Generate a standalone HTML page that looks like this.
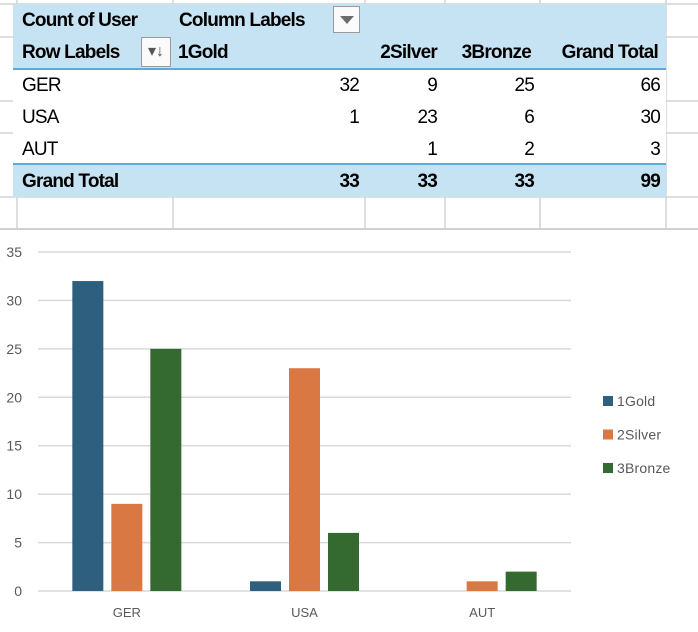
<!DOCTYPE html>
<html><head><meta charset="utf-8"><style>
body{margin:0;width:698px;height:632px;background:#fff;position:relative;overflow:hidden;font-family:"Liberation Sans",sans-serif}
.a{position:absolute}
.t{position:absolute;font-size:19px;color:#000;white-space:nowrap;letter-spacing:-0.8px}
.b{font-weight:bold}
.r{text-align:right}
</style></head><body>
<div class="a" style="left:0;top:0;width:698px;height:230px">
<svg width="698" height="230" style="position:absolute;left:0;top:0">
<g stroke="#d4d4d4" stroke-width="1.5">
<line x1="0" y1="4" x2="698" y2="4"/><line x1="0" y1="37" x2="698" y2="37"/><line x1="0" y1="101" x2="698" y2="101"/><line x1="0" y1="133" x2="698" y2="133"/><line x1="0" y1="197" x2="698" y2="197"/>
<line x1="17" y1="0" x2="17" y2="229"/><line x1="173" y1="0" x2="173" y2="229"/><line x1="365" y1="0" x2="365" y2="229"/><line x1="445" y1="0" x2="445" y2="229"/><line x1="540" y1="0" x2="540" y2="229"/><line x1="666" y1="0" x2="666" y2="229"/>
</g>
<line x1="0" y1="229" x2="698" y2="229" stroke="#d0d0d0" stroke-width="2"/>
</svg>
</div>
<div class="a" style="left:13px;top:4px;width:653px;height:193px">
<div class="a" style="left:0;top:0;width:653px;height:65px;background:#c6e3f3"></div>
<div class="a" style="left:0;top:64px;width:653px;height:2px;background:#5ea8da"></div>
<div class="a" style="left:0;top:66px;width:653px;height:95px;background:#fff"></div>
<div class="a" style="left:0;top:159px;width:653px;height:2px;background:#5ea8da"></div>
<div class="a" style="left:0;top:161px;width:653px;height:32px;background:#c6e3f3"></div>
</div>
<div class="t b" style="left:22px;top:10px">Count of User</div>
<div class="t b" style="left:179px;top:10px">Column Labels</div>
<div class="a" style="left:333px;top:6px;width:27px;height:27px;border:1px solid #9a9a9a;background:#fafafa;box-sizing:border-box"><div class="a" style="left:6px;top:9px;width:0;height:0;border-left:7px solid transparent;border-right:7px solid transparent;border-top:8px solid #6b6b6b"></div></div>
<div class="t b" style="left:22px;top:42px">Row Labels</div>
<div class="a" style="left:141px;top:37px;width:30px;height:30px;border:1px solid #9a9a9a;background:#fafafa;box-sizing:border-box;font-size:16px;color:#555;text-align:center;line-height:28px">▾↓</div>
<div class="t b" style="left:178px;top:42px">1Gold</div>
<div class="t b r" style="left:365px;width:72px;top:42px">2Silver</div>
<div class="t b r" style="left:445px;width:86px;top:42px">3Bronze</div>
<div class="t b r" style="left:540px;width:118px;top:42px">Grand Total</div>
<div class="t" style="left:22px;top:75px">GER</div>
<div class="t r" style="left:173px;width:186px;top:75px">32</div>
<div class="t r" style="left:365px;width:72px;top:75px">9</div>
<div class="t r" style="left:445px;width:89px;top:75px">25</div>
<div class="t r" style="left:540px;width:120px;top:75px">66</div>
<div class="t" style="left:22px;top:107px">USA</div>
<div class="t r" style="left:173px;width:186px;top:107px">1</div>
<div class="t r" style="left:365px;width:72px;top:107px">23</div>
<div class="t r" style="left:445px;width:89px;top:107px">6</div>
<div class="t r" style="left:540px;width:120px;top:107px">30</div>
<div class="t" style="left:22px;top:139px">AUT</div>
<div class="t r" style="left:365px;width:72px;top:139px">1</div>
<div class="t r" style="left:445px;width:89px;top:139px">2</div>
<div class="t r" style="left:540px;width:120px;top:139px">3</div>
<div class="t b" style="left:22px;top:171px">Grand Total</div>
<div class="t b r" style="left:173px;width:186px;top:171px">33</div>
<div class="t b r" style="left:365px;width:72px;top:171px">33</div>
<div class="t b r" style="left:445px;width:89px;top:171px">33</div>
<div class="t b r" style="left:540px;width:120px;top:171px">99</div>

<svg id="chart" class="a" style="left:0;top:230px" width="698" height="402"></svg>
<script>
const categories=["GER","USA","AUT"];
const seriesNames=["1Gold","2Silver","3Bronze"];
const gold=[32,1,0];
const silver=[9,23,1];
const bronze=[25,6,2];
const yTicks=[0,5,10,15,20,25,30,35];
const colors=["#2e5f7e","#d97842","#346a2f"];
const svg=document.getElementById('chart');
const NS="http://www.w3.org/2000/svg";
const x0=38,x1=571,yBase=361,yTop=22,yMax=35;
const y=v=>yBase-(v/yMax)*(yBase-yTop);
const catW=(x1-x0)/categories.length;
function mk(t,a){const e=document.createElementNS(NS,t);for(const k in a)e.setAttribute(k,a[k]);svg.appendChild(e);return e;}
yTicks.forEach(v=>{
 const l=mk('line',{x1:x0,x2:x1,y1:y(v),y2:y(v),stroke:'#d9d9d9','stroke-width':1.5});
 
 
 const t=mk('text',{x:22,y:y(v)+5,'text-anchor':'end','font-size':14,fill:'#595959','font-family':'Liberation Sans, sans-serif'});
 t.textContent=v;
 
 
});
const series=[gold,silver,bronze];
const bw=31,gap=8;
categories.forEach((c,i)=>{
 const cx=x0+catW*(i+0.5);
 const start=cx-(3*bw+2*gap)/2;
 series.forEach((s,j)=>{
  if(!s[i])return;
  const r=mk('rect',{x:start+j*(bw+gap),y:y(s[i]),width:bw,height:yBase-y(s[i]),fill:colors[j]});
  
  
 });
 const t=mk('text',{x:cx,y:387,'text-anchor':'middle','font-size':13,fill:'#595959','font-family':'Liberation Sans, sans-serif'});
 t.textContent=c;
 
 
});
seriesNames.forEach((n,j)=>{
 const ly=166+j*33.5;
 const r=mk('rect',{x:603,y:ly,width:10,height:10,fill:colors[j]});
 
 
 const t=mk('text',{x:617,y:ly+10,'font-size':14,fill:'#595959','font-family':'Liberation Sans, sans-serif','letter-spacing':'0.2'});
 t.textContent=n;
 
 
});
</script>
</body></html>
